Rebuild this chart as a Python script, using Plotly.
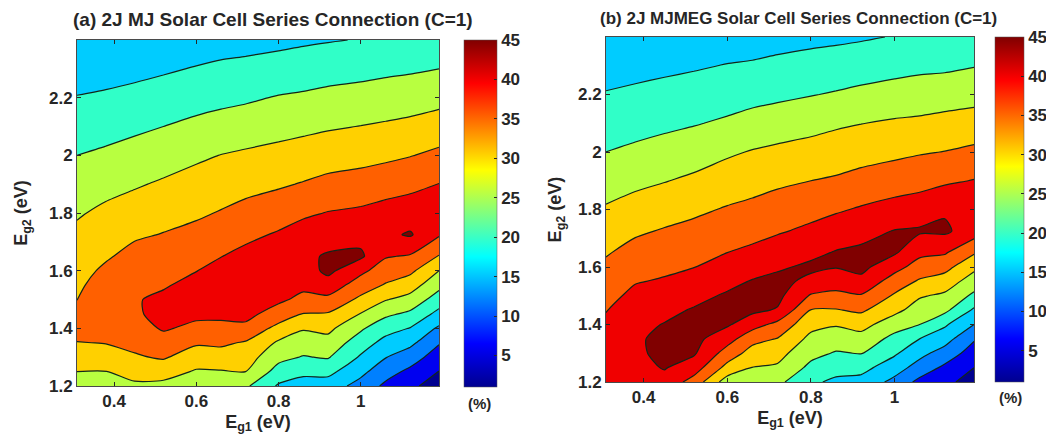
import numpy as np
import plotly.graph_objects as go

EG1 = [0.31, 0.38, 0.45, 0.52, 0.60, 0.66, 0.72, 0.80, 0.86, 0.92, 1.00, 1.06, 1.12, 1.19]
EG2 = [1.2, 1.25, 1.3, 1.35, 1.4, 1.45, 1.5, 1.55, 1.6, 1.65, 1.725, 1.8, 1.9, 2.0, 2.1, 2.2, 2.3, 2.4]

# Efficiency (%) per Eg1 column, listed from Eg2 = 1.2 up to Eg2 = 2.4
EFF_A = [
    [27.6, 30.0, 32.4, 34.8, 37.5, 37.0, 34.9, 34.0, 33.2, 32.3, 31.0, 29.5, 27.3, 25.0, 22.6, 20.2, 17.8, 15.4],
    [27.2, 29.9, 32.6, 35.2, 37.0, 38.3, 38.6, 37.5, 35.9, 34.4, 32.7, 31.0, 28.5, 25.8, 23.3, 20.7, 18.2, 15.7],
    [29.1, 31.8, 34.5, 36.2, 38.0, 39.3, 39.6, 39.0, 38.0, 36.6, 34.3, 32.2, 29.5, 26.8, 24.1, 21.4, 18.7, 16.0],
    [28.6, 32.1, 35.5, 38.0, 40.5, 41.5, 41.0, 39.5, 38.3, 37.0, 35.2, 33.3, 30.6, 27.8, 25.0, 22.2, 19.4, 16.6],
    [26.8, 29.5, 32.6, 35.6, 38.9, 41.0, 42.0, 41.5, 39.9, 38.4, 36.3, 34.3, 31.8, 29.2, 26.1, 23.2, 20.3, 17.4],
    [26.6, 29.7, 32.8, 35.9, 38.8, 41.0, 42.3, 42.4, 41.2, 39.9, 37.6, 35.3, 32.7, 30.1, 26.8, 23.8, 20.9, 18.0],
    [25.8, 30.0, 32.3, 34.5, 39.0, 41.2, 42.5, 43.0, 42.7, 41.3, 38.9, 36.5, 33.5, 30.7, 27.5, 24.3, 21.3, 18.3],
    [19.4, 23.1, 26.4, 29.3, 33.3, 38.1, 40.8, 42.0, 43.0, 43.4, 40.5, 37.9, 34.4, 31.4, 28.4, 25.3, 22.0, 18.8],
    [17.8, 21.2, 24.7, 27.5, 30.4, 34.8, 38.9, 41.0, 42.5, 43.8, 42.1, 39.2, 35.3, 32.1, 28.9, 25.7, 22.5, 19.3],
    [17.5, 21.4, 25.4, 28.2, 31.2, 34.6, 38.8, 42.8, 46.2, 45.6, 42.4, 40.2, 36.3, 32.8, 29.5, 26.3, 23.0, 19.7],
    [13.2, 16.3, 19.4, 22.4, 25.7, 29.8, 33.9, 37.6, 41.1, 45.8, 43.5, 40.9, 36.9, 33.5, 30.1, 26.8, 23.5, 20.2],
    [9.0, 12.0, 15.2, 18.4, 21.9, 26.0, 30.3, 34.6, 37.6, 40.4, 44.0, 41.8, 37.9, 34.0, 30.6, 27.3, 24.0, 20.7],
    [6.1, 8.9, 12.3, 16.2, 19.8, 24.0, 28.2, 32.3, 36.1, 39.5, 45.5, 42.4, 38.8, 34.8, 31.2, 27.7, 24.4, 21.0],
    [2.6, 4.9, 7.6, 10.4, 14.2, 18.5, 22.6, 26.4, 30.0, 34.7, 40.5, 42.0, 40.1, 36.1, 32.2, 28.5, 25.0, 21.7],
]

EFF_B = [
    [41.5, 42.5, 43.0, 42.5, 41.0, 39.8, 38.5, 37.2, 35.9, 34.6, 32.6, 30.5, 27.8, 25.0, 22.7, 20.3, 18.0, 15.7],
    [42.0, 43.5, 44.2, 44.3, 43.8, 42.8, 41.2, 39.7, 38.1, 36.6, 34.3, 32.0, 28.8, 25.9, 23.3, 20.9, 18.5, 16.1],
    [43.4, 45.3, 46.1, 46.2, 45.2, 43.8, 42.1, 40.5, 39.0, 37.6, 35.4, 33.0, 29.8, 26.8, 24.0, 21.5, 19.0, 16.6],
    [38.0, 42.5, 45.6, 46.4, 46.4, 45.4, 43.6, 41.8, 39.9, 38.5, 36.3, 34.1, 30.9, 27.7, 24.7, 22.1, 19.5, 17.0],
    [27.5, 33.4, 37.9, 42.0, 45.6, 46.5, 45.6, 43.7, 41.9, 40.0, 37.7, 35.4, 32.4, 29.3, 25.7, 22.9, 20.2, 17.6],
    [26.7, 29.9, 33.0, 36.6, 42.1, 46.0, 46.8, 45.3, 43.2, 41.0, 38.5, 36.2, 33.2, 30.3, 26.7, 23.5, 20.5, 17.9],
    [26.2, 29.3, 31.7, 34.8, 38.6, 44.6, 46.3, 46.2, 44.4, 42.4, 39.5, 37.2, 34.1, 31.0, 27.5, 24.0, 21.0, 18.4],
    [20.9, 23.8, 26.4, 28.7, 31.5, 34.8, 39.5, 44.0, 45.8, 44.0, 41.0, 38.4, 35.0, 31.8, 28.4, 24.8, 21.7, 18.8],
    [19.0, 21.8, 24.6, 27.4, 30.4, 34.7, 38.6, 42.5, 45.2, 45.3, 42.5, 39.4, 35.6, 32.4, 29.3, 25.4, 22.2, 19.1],
    [18.3, 21.6, 25.2, 28.2, 31.7, 35.8, 39.6, 43.7, 46.3, 46.0, 43.4, 40.5, 36.6, 33.1, 29.9, 26.1, 22.7, 19.5],
    [13.6, 17.2, 20.7, 23.5, 27.2, 31.3, 34.4, 37.7, 41.7, 45.6, 45.2, 41.7, 37.7, 33.9, 30.6, 26.9, 23.4, 20.2],
    [8.6, 13.0, 16.4, 20.0, 25.0, 27.8, 30.5, 34.4, 37.9, 41.2, 45.6, 42.4, 38.4, 34.6, 30.9, 27.4, 23.9, 20.6],
    [6.6, 9.0, 13.0, 17.0, 20.7, 26.2, 29.1, 32.7, 36.6, 40.5, 45.8, 44.4, 39.2, 35.1, 31.5, 27.8, 24.1, 20.9],
    [2.4, 5.0, 7.6, 10.5, 15.0, 19.2, 24.0, 27.6, 31.2, 35.5, 42.5, 44.3, 40.2, 36.0, 32.1, 28.3, 24.8, 21.5],
]

TITLE_A = "(a) 2J MJ Solar Cell Series Connection (C=1)"
TITLE_B = "(b) 2J MJMEG Solar Cell Series Connection (C=1)"
XLABEL = "E<sub>g1</sub> (eV)"
YLABEL = "E<sub>g2</sub> (eV)"
X_TICKS = [0.4, 0.6, 0.8, 1.0]
X_TICK_TEXT = ["0.4", "0.6", "0.8", "1"]
Y_TICKS = [1.2, 1.4, 1.6, 1.8, 2.0, 2.2]
Y_TICK_TEXT = ["1.2", "1.4", "1.6", "1.8", "2", "2.2"]
CB_TICKS = [5, 10, 15, 20, 25, 30, 35, 40, 45]

# Fill colour of each band, from below 5 to above 45
BAND_COLORS = ["#00008f", "#0000f0", "#0080ff", "#00ccff", "#30ffc8", "#b8ff40",
               "#ffd000", "#ff6000", "#f00000", "#800000"]
JET = [[0, "#00008f"], [0.125, "#0000ff"], [0.375, "#00ffff"],
       [0.625, "#ffff00"], [0.875, "#ff0000"], [1, "#800000"]]

# The page keeps an 8 px body margin, so the figure sits 8 px in from the window corner.
W, H, PAD = 1038, 431, 8
INK = "#262626"
FONT = "Liberation Sans"
band_scale = [[i / (len(BAND_COLORS) - 1), c] for i, c in enumerate(BAND_COLORS)]


def px(x):
    return (x - PAD) / W


def py(y):
    return 1 - (y - PAD) / H


def panel(z, xa, ya, cb_x, cb_th, cb_top, cb_len):
    xref = "x" if xa == 1 else f"x{xa}"
    yref = "y" if ya == 1 else f"y{ya}"
    return [
        go.Heatmap(z=[[1, 45], [1, 45]], x=[EG1[0], EG1[1]], y=[EG2[0], EG2[1]], xaxis=xref, yaxis=yref,
                   colorscale=JET, zmin=1, zmax=45, hoverinfo="skip",
                   colorbar=dict(x=px(cb_x), xanchor="left", xpad=0, ypad=0, thickness=cb_th,
                                 y=py(cb_top), yanchor="top", lenmode="pixels", len=cb_len,
                                 tickvals=CB_TICKS, ticks="inside", ticklen=3, tickcolor=INK,
                                 outlinewidth=0.5, outlinecolor="#555555",
                                 tickfont=dict(family=FONT, size=17, color=INK, weight="bold"))),
        go.Contour(x=EG1, y=EG2, z=np.array(z).T, xaxis=xref, yaxis=yref, showscale=False,
                   colorscale=band_scale, autocontour=False,
                   contours=dict(start=5, end=45, size=5, coloring="fill"),
                   line=dict(color="#12261a", width=1.2, smoothing=0.7)),
    ]


fig = go.Figure(panel(EFF_A, 1, 1, 464, 33, 40, 347) + panel(EFF_B, 2, 2, 995, 29, 37, 345))

axis_common = dict(ticks="inside", ticklen=4, tickcolor=INK, showline=True, linecolor="#4a4a4a",
                   linewidth=1, mirror="ticks", showgrid=False, zeroline=False,
                   tickfont=dict(family=FONT, size=17, color=INK, weight="bold"),
                   title_font=dict(family=FONT, size=18, color=INK, weight="bold"))

def xax(dom):
    return dict(axis_common, domain=dom, range=[EG1[0], EG1[-1]], tickvals=X_TICKS, ticktext=X_TICK_TEXT,
                title=dict(text=XLABEL, standoff=4))

def yax(dom, standoff):
    return dict(axis_common, domain=dom, range=[EG2[0], EG2[-1]], tickvals=Y_TICKS, ticktext=Y_TICK_TEXT,
                title=dict(text=YLABEL, standoff=standoff))

def note(text, x, y, size):
    return dict(text=text, x=px(x), y=py(y), xref="paper", yref="paper", showarrow=False,
                xanchor="center", yanchor="middle", font=dict(family=FONT, size=size, color=INK, weight="bold"))

fig.update_layout(
    width=W, height=H, autosize=False, margin=dict(l=0, r=0, t=0, b=0, autoexpand=False),
    paper_bgcolor="white", plot_bgcolor="white", showlegend=False,
    xaxis=dict(xax([px(77), px(439)]), anchor="y"),
    yaxis=dict(yax([py(386), py(40)], 16), anchor="x"),
    xaxis2=dict(xax([px(606), px(974)]), anchor="y2"),
    yaxis2=dict(yax([py(382), py(37)], 11), anchor="x2"),
    annotations=[
        note(TITLE_A, 273, 20, 19),
        note(TITLE_B, 798, 19, 17),
        note("(%)", 479, 403, 15),
        note("(%)", 1010, 397, 15),
    ],
)

fig.write_html("out.html")
